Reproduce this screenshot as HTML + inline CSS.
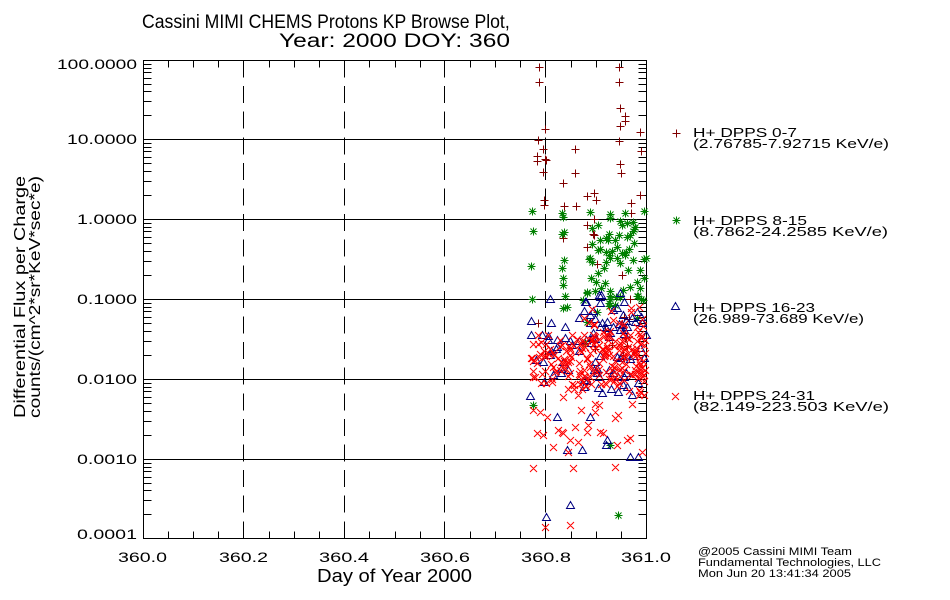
<!DOCTYPE html>
<html>
<head>
<meta charset="utf-8">
<style>
html,body{margin:0;padding:0;background:#fff;}
svg{display:block;}
text{font-family:"Liberation Sans",sans-serif;fill:#000;}
</style>
</head>
<body>
<svg id="s" width="950" height="600" viewBox="0 0 950 600" xmlns="http://www.w3.org/2000/svg">
<rect width="950" height="600" fill="#fff"/>

<!-- title -->
<text id="t1" transform="translate(142,28) scale(0.927,1)" font-size="19">Cassini MIMI CHEMS Protons KP Browse Plot,</text>
<text x="279" y="47" font-size="19" textLength="231" lengthAdjust="spacingAndGlyphs">Year: 2000 DOY: 360</text>

<!-- frame, grid -->
<g stroke="#000" stroke-width="1" fill="none" shape-rendering="crispEdges">
  <path d="M143.5,60.5H646.5V538.5H143.5Z"/>
  <path d="M143.5,139.5H646.5M143.5,219.5H646.5M143.5,299.5H646.5M143.5,379.5H646.5M143.5,459.5H646.5"/>
  <path stroke-dasharray="17 8.6" d="M243.5,60.5V538.5M344.5,60.5V538.5M444.5,60.5V538.5M545.5,60.5V538.5"/>
  <path id="ticks" d=""/>
</g>

<!-- series -->
<path id="pplus" stroke="#800000" stroke-width="1" fill="none" d=""/>
<path id="pstar" stroke="#008000" stroke-width="1" fill="none" d=""/>
<path id="ptri" stroke="#000080" stroke-width="1" fill="none" d=""/>
<path id="pcross" stroke="#ff0000" stroke-width="1" fill="none" d=""/>

<!-- y tick labels -->
<g font-size="14">
<text x="57" y="69" textLength="80" lengthAdjust="spacingAndGlyphs">100.0000</text>
<text x="67" y="144" textLength="70" lengthAdjust="spacingAndGlyphs">10.0000</text>
<text x="77" y="224" textLength="60" lengthAdjust="spacingAndGlyphs">1.0000</text>
<text x="77" y="304" textLength="60" lengthAdjust="spacingAndGlyphs">0.1000</text>
<text x="77" y="384" textLength="60" lengthAdjust="spacingAndGlyphs">0.0100</text>
<text x="77" y="464" textLength="60" lengthAdjust="spacingAndGlyphs">0.0010</text>
<text x="77" y="539" textLength="60" lengthAdjust="spacingAndGlyphs">0.0001</text>
</g>

<!-- x tick labels -->
<g font-size="14">
<text x="118" y="562" textLength="49" lengthAdjust="spacingAndGlyphs">360.0</text>
<text x="219" y="562" textLength="49" lengthAdjust="spacingAndGlyphs">360.2</text>
<text x="319" y="562" textLength="50" lengthAdjust="spacingAndGlyphs">360.4</text>
<text x="420" y="562" textLength="50" lengthAdjust="spacingAndGlyphs">360.6</text>
<text x="521" y="562" textLength="50" lengthAdjust="spacingAndGlyphs">360.8</text>
<text x="621" y="562" textLength="50" lengthAdjust="spacingAndGlyphs">361.0</text>
</g>

<text x="317" y="582" font-size="18" textLength="155" lengthAdjust="spacingAndGlyphs">Day of Year 2000</text>

<!-- y axis title -->
<text transform="translate(25,418) rotate(-90)" font-size="16" textLength="242" lengthAdjust="spacingAndGlyphs">Differential Flux per Charge</text>
<text transform="translate(40,418) rotate(-90)" font-size="16" textLength="242" lengthAdjust="spacingAndGlyphs">counts/(cm^2*sr*KeV*sec*e)</text>

<!-- legend -->
<g font-size="13">
<text x="693" y="137" textLength="104" lengthAdjust="spacingAndGlyphs">H+ DPPS 0-7</text>
<text x="693" y="148" textLength="196" lengthAdjust="spacingAndGlyphs">(2.76785-7.92715 KeV/e)</text>
<text x="693" y="225" textLength="114" lengthAdjust="spacingAndGlyphs">H+ DPPS 8-15</text>
<text x="693" y="236" textLength="195" lengthAdjust="spacingAndGlyphs">(8.7862-24.2585 KeV/e)</text>
<text x="693" y="312" textLength="122" lengthAdjust="spacingAndGlyphs">H+ DPPS 16-23</text>
<text x="693" y="323" textLength="171" lengthAdjust="spacingAndGlyphs">(26.989-73.689 KeV/e)</text>
<text x="693" y="400" textLength="122" lengthAdjust="spacingAndGlyphs">H+ DPPS 24-31</text>
<text x="693" y="411" textLength="196" lengthAdjust="spacingAndGlyphs">(82.149-223.503 KeV/e)</text>
</g>

<!-- footer -->
<g font-size="11">
<text x="698" y="555" textLength="154" lengthAdjust="spacingAndGlyphs">@2005 Cassini MIMI Team</text>
<text x="698" y="566" textLength="183" lengthAdjust="spacingAndGlyphs">Fundamental Technologies, LLC</text>
<text x="698" y="577" textLength="153" lengthAdjust="spacingAndGlyphs">Mon Jun 20 13:41:34 2005</text>
</g>
</svg>

<script>
(function(){
  // fit title line 1 to exact width 368px
  try{
    var t=document.getElementById('t1');
    t.removeAttribute('transform');
    var w=t.getComputedTextLength();
    if(w>0){
      t.setAttribute('transform','translate(142,28) scale('+(368/w)+',1)');
    }else{
      t.setAttribute('transform','translate(142,28) scale(0.927,1)');
    }
  }catch(e){}

  var d='';
  for(var k=1;k<20;k++){
    if(k%4===0) continue;
    var x=Math.round(143+k*25.15)+0.5;
    d+='M'+x+',538.5v-7M'+x+',60.5v7';
  }
  var L=[60,139,219,299,379,459,538];
  for(var i=1;i<7;i++){
    var yb=L[i], yt=L[i-1], h=yb-yt;
    for(var m=2;m<=9;m++){
      var y=Math.round(yb-Math.log10(m)*h)+0.5;
      d+='M143.5,'+y+'h8M646.5,'+y+'h-8';
    }
  }
  document.getElementById('ticks').setAttribute('d',d);

  function P(x,y){x+=.5;y+=.5;return 'M'+(x-4)+','+y+'h8M'+x+','+(y-4)+'v8';}
  function S(x,y){x+=.5;y+=.5;return 'M'+(x-4)+','+y+'h8M'+x+','+(y-4)+'v8M'+(x-3)+','+(y-3)+'l6,6M'+(x-3)+','+(y+3)+'l6,-6';}
  function T(x,y){x+=.5;y+=.5;return 'M'+(x-4)+','+(y+3)+'L'+x+','+(y-4)+'L'+(x+4)+','+(y+3)+'Z';}
  function X(x,y){x+=.5;y+=.5;return 'M'+(x-3.5)+','+(y-3.5)+'l7,7M'+(x-3.5)+','+(y+3.5)+'l7,-7';}

  var s=12345;
  function r(){s=(s*1103515245+12345)%2147483648;return s/2147483648;}
  function g(){return (r()+r()+r()+r()-2)*1.73;}
  function R(v){return Math.round(v);}

  var plus=[[539,67],[539,82],[545,129],[538,140],[543,149],[537,156],[537,161],[545,159],[546,160],[543,172],[575,149],[575,173],[563,183],[619,67],[619,82],[620,108],[625,116],[625,121],[620,126],[640,132],[619,141],[620,164],[621,173],[641,151],[640,195],[544,200],[544,205],[564,206],[576,206],[587,196],[594,193],[596,200],[631,203],[631,213],[587,225],[594,219],[593,234],[594,235],[563,238],[587,247],[597,264],[622,275],[630,299],[538,323],[605,330],[590,340],[612,345],[625,338]];
  var star=[[532,211],[562,213],[563,217],[590,212],[610,218],[622,225],[633,222],[635,227],[644,211],[533,231],[562,234],[564,232],[592,228],[608,240],[615,240],[617,247],[612,251],[610,258],[622,253],[617,258],[625,255],[620,263],[590,258],[592,262],[564,260],[562,268],[531,266],[598,273],[563,278],[563,285],[591,278],[596,282],[605,283],[640,270],[637,282],[640,288],[644,278],[646,258],[587,292],[601,288],[610,291],[623,290],[630,287],[532,299],[565,296],[563,308],[567,307],[609,303],[587,293],[610,296],[620,297],[637,296],[643,300],[597,312],[587,322],[585,343],[533,405],[637,318],[610,445],[618,515],[606,238],[598,250],[604,268],[628,270],[583,300],[615,305]];
  var tri=[[550,299],[531,321],[551,323],[531,335],[548,336],[548,340],[557,340],[565,338],[570,341],[572,345],[600,297],[620,293],[600,303],[613,310],[590,315],[637,312],[590,323],[600,327],[613,327],[620,330],[627,327],[635,322],[642,323],[607,322],[597,373],[598,388],[627,387],[638,383],[530,396],[557,417],[590,417],[568,370],[553,375],[567,450],[582,450],[607,440],[606,445],[630,457],[638,457],[570,505],[546,517]];
  var cross=[[533,410],[540,412],[547,417],[537,433],[543,435],[558,430],[562,432],[563,433],[570,440],[575,427],[578,442],[587,432],[588,425],[600,432],[603,433],[553,447],[568,452],[617,445],[618,415],[615,418],[627,440],[630,438],[642,452],[595,412],[533,468],[573,468],[615,467],[545,527],[570,525]];

  var i2;
  for(i2=0;i2<6;i2++) plus.push([R(585+r()*60),R(300+r()*55)]);
  for(i2=0;i2<30;i2++) star.push([R(582+r()*64),R(212+r()*100)]);
  for(i2=0;i2<55;i2++) tri.push([R(578+r()*68),R(295+100*Math.pow(r(),1.3))]);
  for(i2=0;i2<12;i2++) tri.push([R(530+r()*45),R(325+r()*70)]);
  for(i2=0;i2<70;i2++){var yy=362+15*g(); yy=Math.max(335,Math.min(405,yy)); cross.push([R(531+r()*49),R(yy)]);}
  for(i2=0;i2<165;i2++){var y2=358+22*g(); y2=Math.max(305,Math.min(420,y2)); cross.push([R(580+r()*66),R(y2)]);}

  function build(arr,f){var o='';for(var j=0;j<arr.length;j++)o+=f(arr[j][0],arr[j][1]);return o;}
  document.getElementById('pplus').setAttribute('d',build(plus,P)+P(676,133));
  document.getElementById('pstar').setAttribute('d',build(star,S)+S(676,220));
  document.getElementById('ptri').setAttribute('d',build(tri,T)+T(675,306));
  document.getElementById('pcross').setAttribute('d',build(cross,X)+X(675,396));
})();
</script>
</body>
</html>
